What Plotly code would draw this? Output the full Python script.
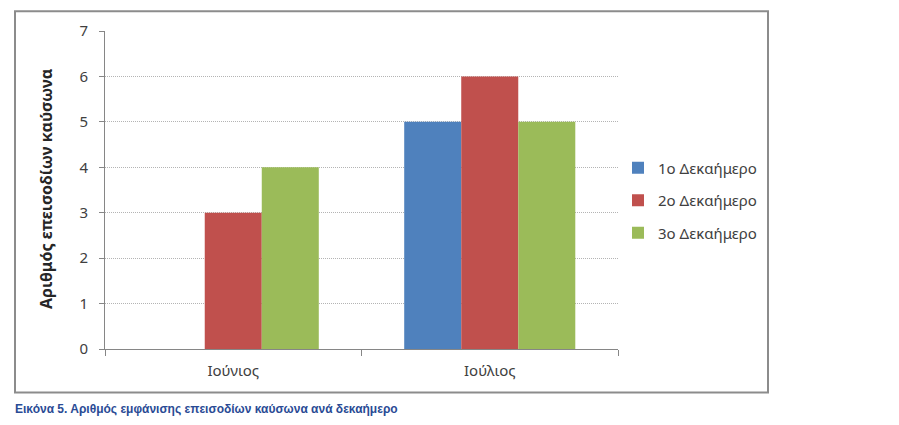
import plotly.graph_objects as go

categories = ["Ιούνιος", "Ιούλιος"]
series_names = ["1ο Δεκαήμερο", "2ο Δεκαήμερο", "3ο Δεκαήμερο"]
dek1 = [0, 5]
dek2 = [3, 6]
dek3 = [4, 5]
colors = ["#4F81BD", "#C0504D", "#9BBB59"]
y_ticks = [0, 1, 2, 3, 4, 5, 6, 7]
y_title = "Αριθμός επεισοδίων καύσωνα"
caption = "Εικόνα 5. Αριθμός εμφάνισης επεισοδίων καύσωνα ανά δεκαήμερο"

OFF = 8  # page body margin
W, H = 899 - OFF, 425 - OFF
L, R, T, B = 105 - OFF, 618 - OFF, 27 - OFF, 349 - OFF
pw, ph = R - L, B - T

def px(x):
    return (x - OFF - L) / pw

def py(y):
    return (B - (y - OFF)) / ph

fig = go.Figure()
for i, (name, vals) in enumerate(zip(series_names, [dek1, dek2, dek3])):
    fig.add_trace(go.Bar(x=categories, y=vals, name=name, marker_color=colors[i],
                         marker_line_width=0, legendgroup=f"g{i}"))

font_main = "Noto Sans, Open Sans, sans-serif"
fig.update_layout(
    width=W, height=H,
    margin=dict(l=L, r=W - R, t=T, b=H - B, pad=0),
    paper_bgcolor="white", plot_bgcolor="white",
    barmode="group", bargap=0.333, bargroupgap=0,
    font=dict(family=font_main, size=15, color="#404040"),
    showlegend=True,
    legend=dict(x=px(618), y=py(149), xanchor="left", yanchor="top",
                font=dict(size=15, color="#404040"), tracegroupgap=10,
                itemwidth=30, bgcolor="rgba(0,0,0,0)"),
    xaxis=dict(showline=True, linecolor="#868686", linewidth=1,
               ticks="outside", tickson="boundaries", ticklen=6, tickcolor="#868686",
               ticklabelstandoff=8,
               tickfont=dict(size=15, color="#404040"), showgrid=False),
    yaxis=dict(range=[0, 7], tickvals=y_ticks, showline=True, linecolor="#868686",
               linewidth=1, ticks="outside", ticklen=5, tickcolor="#868686",
               ticklabelstandoff=8,
               showgrid=True, gridcolor="#B4B4B4", griddash="1px,1px", gridwidth=1,
               tickfont=dict(size=15, color="#404040"), zeroline=False),
    shapes=[dict(type="rect", xref="paper", yref="paper",
                 x0=px(15), x1=px(768), y0=py(393), y1=py(7),
                 line=dict(color="#8C8C8C", width=2), fillcolor="rgba(0,0,0,0)",
                 layer="below")],
    annotations=[
        dict(text=f"<b>{y_title}</b>", xref="paper", yref="paper",
             x=px(46), y=py(187), textangle=-90, showarrow=False,
             font=dict(size=16, color="#262626", family=font_main),
             xanchor="center", yanchor="middle"),
        dict(text=f"<b>{caption}</b>", xref="paper", yref="paper",
             x=px(13), y=py(410), showarrow=False, xanchor="left", yanchor="middle",
             font=dict(size=12, color="#2A4B95", family="Liberation Sans, Arial, sans-serif")),
    ],
)

fig.write_html("out.html")
